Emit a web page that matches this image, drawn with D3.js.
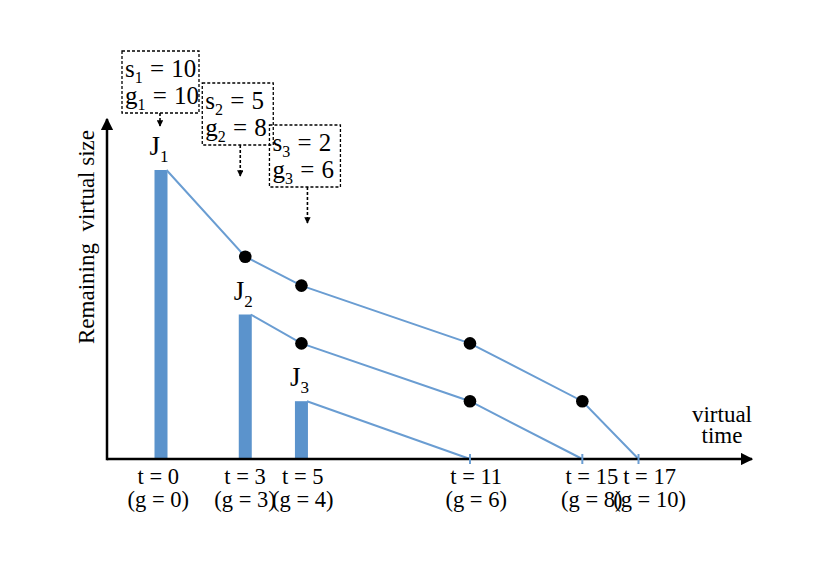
<!DOCTYPE html>
<html>
<head>
<meta charset="utf-8">
<script src="https://cdn.jsdelivr.net/npm/d3@7"></script>
<style>
  html, body { margin: 0; padding: 0; background: #fff; }
  svg text { font-family: "Liberation Serif", "Times New Roman", serif; fill: #000; white-space: pre; }
</style>
</head>
<body>
<svg id="chart" width="830" height="587"></svg>
<script>
// ---------- data ----------
const jobNames = ["J", "J", "J"];
const jobIndex = ["1", "2", "3"];
const arrivalTimes = [0, 3, 5];
const jobSizes = [10, 5, 2];
const finishTags = [10, 8, 6];

const j1Times = [0, 3, 5, 11, 15, 17];
const j1Remaining = [10, 7, 6, 4, 2, 0];
const j2Times = [3, 5, 11, 15];
const j2Remaining = [5, 4, 2, 0];
const j3Times = [5, 11];
const j3Remaining = [2, 0];

const tickTimes = [0, 3, 5, 11, 15, 17];
const tickVirtual = [0, 3, 4, 6, 8, 10];

// ---------- layout ----------
const W = 830, H = 587;
const axisX0 = 107, axisY0 = 459;
const xEnd = 752, yTop = 119;
const barW = 13;
const boxTops = [51, 83, 125];
const boxDx = [-1, -5, 6];
const boxW = [77, 71, 71];
const boxH = 62;
const arrowLen = [13, 31, 36];
const barColor = "#5b93cc";
const lineColor = "#6a9dd2";

const svg = d3.select("#chart");
svg.append("rect").attr("width", W).attr("height", H).attr("fill", "#fff");

const x = d3.scaleLinear().domain([0, 17]).range([161, 638.5]);
const xLabel = d3.scaleLinear().domain([0, 17]).range([158.3, 649.6]);
const y = d3.scaleLinear().domain([0, 10]).range([axisY0, 170]);

const defs = svg.append("defs");
defs.append("marker").attr("id", "axArrow").attr("viewBox", "0 0 10 10")
  .attr("refX", 9).attr("refY", 5).attr("markerWidth", 5).attr("markerHeight", 5)
  .attr("markerUnits", "strokeWidth").attr("orient", "auto")
  .append("path").attr("d", "M0,0 L10,5 L0,10 z").attr("fill", "#000");
defs.append("marker").attr("id", "smArrow").attr("viewBox", "0 0 10 10")
  .attr("refX", 9).attr("refY", 5).attr("markerWidth", 4).attr("markerHeight", 4)
  .attr("markerUnits", "strokeWidth").attr("orient", "auto")
  .append("path").attr("d", "M0,0 L10,5 L0,10 z").attr("fill", "#000");

// ---------- bars ----------
const jobs = arrivalTimes.map((t, i) => ({ t, size: jobSizes[i], name: jobNames[i], idx: jobIndex[i], g: finishTags[i], i }));
svg.selectAll("rect.bar").data(jobs).enter().append("rect")
  .attr("class", "bar")
  .attr("x", d => x(d.t) - barW / 2)
  .attr("y", d => y(d.size))
  .attr("width", barW)
  .attr("height", d => y(0) - y(d.size))
  .attr("fill", barColor);

// ---------- lines ----------
const series = [
  j1Times.map((t, i) => ({ t, v: j1Remaining[i] })),
  j2Times.map((t, i) => ({ t, v: j2Remaining[i] })),
  j3Times.map((t, i) => ({ t, v: j3Remaining[i] }))
];
const line = d3.line()
  .x((d, i) => x(d.t) + (i === 0 ? barW / 2 - 1 : 0))
  .y(d => y(d.v));
svg.selectAll("path.job").data(series).enter().append("path")
  .attr("class", "job")
  .attr("d", line)
  .attr("fill", "none")
  .attr("stroke", lineColor)
  .attr("stroke-width", 2);

// ---------- axes ----------
svg.append("line").attr("x1", axisX0).attr("y1", axisY0).attr("x2", xEnd).attr("y2", axisY0)
  .attr("stroke", "#000").attr("stroke-width", 2.5).attr("marker-end", "url(#axArrow)");
svg.append("line").attr("x1", axisX0).attr("y1", axisY0 + 1.2).attr("x2", axisX0).attr("y2", yTop)
  .attr("stroke", "#000").attr("stroke-width", 2.5).attr("marker-end", "url(#axArrow)");

// completion ticks
const ends = series.map(s => s[s.length - 1]);
svg.selectAll("line.endTick").data(ends).enter().append("line")
  .attr("class", "endTick")
  .attr("x1", d => x(d.t)).attr("x2", d => x(d.t))
  .attr("y1", axisY0 - 5).attr("y2", axisY0 + 5)
  .attr("stroke", lineColor).attr("stroke-width", 2);

// dots at interior points
const dots = series.flatMap(s => s.slice(1, -1));
svg.selectAll("circle.dot").data(dots).enter().append("circle")
  .attr("class", "dot")
  .attr("cx", d => x(d.t)).attr("cy", d => y(d.v)).attr("r", 6.3)
  .attr("fill", "#000");

// ---------- job labels ----------
jobs.forEach(d => {
  const t = svg.append("text")
    .attr("x", x(d.t) - barW / 2 - 5)
    .attr("y", y(d.size) - 15)
    .attr("font-size", 27);
  t.append("tspan").text(d.name);
  t.append("tspan").attr("font-size", 17).attr("dy", 7).text(d.idx);
});

// ---------- x tick labels ----------
tickTimes.forEach((t, i) => {
  svg.append("text").attr("x", xLabel(t)).attr("y", 484)
    .attr("text-anchor", "middle").attr("font-size", 22.5)
    .text("t = " + t);
  svg.append("text").attr("x", xLabel(t)).attr("y", 507)
    .attr("text-anchor", "middle").attr("font-size", 22.5)
    .text("(g = " + tickVirtual[i] + ")");
});

// ---------- axis titles ----------
svg.append("text").attr("transform", "translate(94,237) rotate(-90)")
  .attr("text-anchor", "middle").attr("font-size", 23)
  .text("Remaining  virtual size");
svg.append("text").attr("x", 722).attr("y", 422).attr("text-anchor", "middle")
  .attr("font-size", 23).text("virtual");
svg.append("text").attr("x", 722).attr("y", 443).attr("text-anchor", "middle")
  .attr("font-size", 23).text("time");

// ---------- annotation boxes ----------
jobs.forEach(d => {
  const bw = boxW[d.i];
  const cx = x(d.t) + boxDx[d.i];
  const bx = cx - 38, by = boxTops[d.i];
  svg.append("rect").attr("x", bx).attr("y", by).attr("width", bw).attr("height", boxH)
    .attr("fill", "none").attr("stroke", "#000").attr("stroke-width", 1.3)
    .attr("stroke-dasharray", "3,2");
  const rows = [["s", d.size], ["g", d.g]];
  rows.forEach((r, k) => {
    const tx = svg.append("text").attr("x", bx + 3).attr("y", by + 26 + k * 27)
      .attr("font-size", 25).attr("word-spacing", 1);
    tx.append("tspan").text(r[0]);
    tx.append("tspan").attr("font-size", 16).attr("dy", 6).text(d.idx);
    tx.append("tspan").attr("dy", -6).text(" = " + r[1]);
  });
  svg.append("line").attr("x1", cx).attr("x2", cx)
    .attr("y1", by + boxH).attr("y2", by + boxH + arrowLen[d.i])
    .attr("stroke", "#000").attr("stroke-width", 1.6)
    .attr("stroke-dasharray", "3,2").attr("marker-end", "url(#smArrow)");
});
</script>
</body>
</html>
